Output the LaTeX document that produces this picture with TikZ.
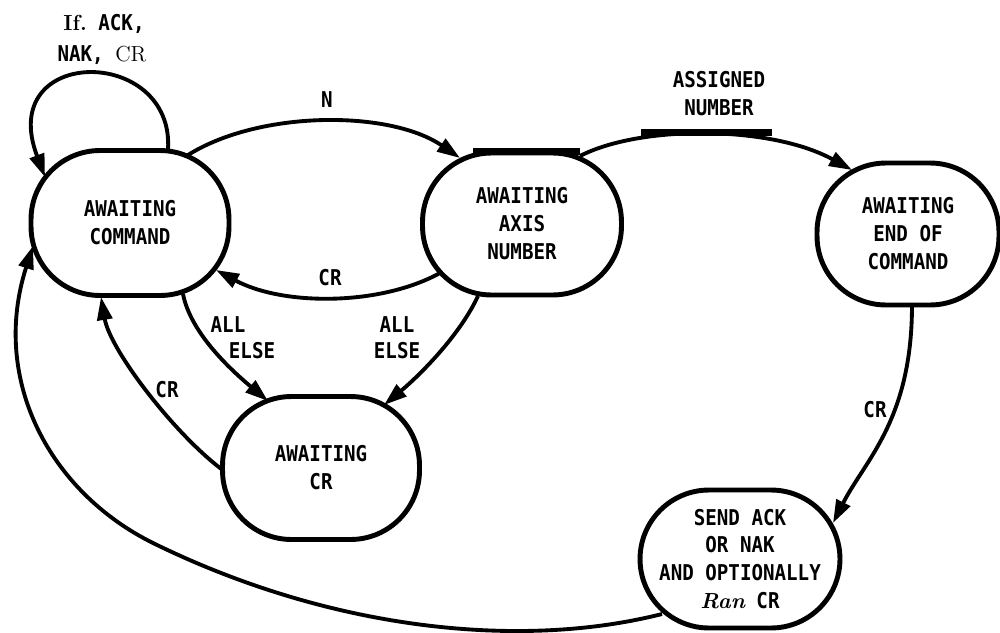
\documentclass[tikz,border=0pt]{standalone}
\usepackage{fontspec}
\newfontfamily\lblfont[FakeStretch=0.88]{DejaVu Sans Mono}
\usetikzlibrary{arrows.meta,calc}
\tikzset{
  stnode/.style={draw, line width=2.8pt, rounded corners=1.38cm, inner sep=0pt, align=center,
    font=\lblfont\bfseries\fontsize{12.4}{15.9}\selectfont},
  stedge/.style={line width=2.2pt, -{Triangle[length=0.46cm,width=0.3cm]}},
  stlab/.style={font=\lblfont\bfseries\fontsize{12.4}{15.9}\selectfont, inner sep=1pt},
  stbar/.style={line width=0.13cm}
}

\begin{document}
\begin{tikzpicture}[x=0.02cm,y=-0.02cm]
  \useasboundingbox (0,0) rectangle (1000,632);
  % states
  \node[stnode, minimum width=3.96cm, minimum height=2.9cm]  (cmd)  at (130,223) {AWAITING\\COMMAND};
  \node[stnode, minimum width=3.98cm, minimum height=2.84cm] (axis) at (522,224) {AWAITING\\AXIS\\NUMBER};
  \node[stnode, minimum width=3.64cm, minimum height=2.84cm] (eoc)  at (908,234) {AWAITING\\END OF\\COMMAND};
  \node[stnode, minimum width=3.94cm, minimum height=2.86cm] (acr)  at (321,468) {AWAITING\\CR};
  \node[stnode, minimum width=4.0cm, minimum height=2.76cm]  (send) at (740,559) {SEND ACK\\OR NAK\\AND OPTIONALLY\\{\rmfamily\itshape Ran} CR};
  \draw[stbar] ($(axis.north)+(-49,1)$) -- ($(axis.north)+(58,1)$);
  % transitions
  \draw[stedge] ($(cmd.center)+(38,-73)$) .. controls (175,45) and (-5,45) .. ($(cmd.center)+(-85,-46)$);
  \draw[stedge] ($(cmd.center)+(58,-68)$) .. controls (260,110) and (390,110) .. ($(axis.center)+(-62,-66)$);
  \draw[stedge] ($(axis.center)+(58,-68)$) .. controls (640,125) and (770,125) .. ($(eoc.center)+(-56,-64)$);
  \draw[stedge] ($(axis.center)+(-82,49)$) .. controls (380,306) and (283,306) .. ($(cmd.center)+(86,47)$);
  \draw[stedge] ($(cmd.center)+(53,71)$) .. controls (190,330) and (225,365) .. ($(acr.center)+(-53,-67)$);
  \draw[stedge] ($(axis.center)+(-44,72)$) .. controls (460,335) and (420,375) .. ($(acr.center)+(63,-63)$);
  \draw[stedge] ($(acr.center)+(-97,3)$) .. controls (175,435) and (110,350) .. ($(cmd.center)+(-29,74)$);
  \draw[stedge] ($(eoc.center)+(4,71)$) .. controls (912,420) and (865,460) .. ($(send.center)+(93,-36)$);
  \draw[stedge] ($(send.center)+(-78,55)$) .. controls (520,650) and (330,630) .. (153,543)
    .. controls (50,492) and (-10,380) .. ($(cmd.center)+(-97,23)$);
  % labels
  \node[stlab] (lfack) at (104,24) {{\rmfamily\bfseries If.}\ ACK,};
  \node[stlab] (nakcr) at (102,55) {NAK, {\rmfamily\mdseries CR}};
  \node[stlab] (nlab) at (327,100) {N};
  \node[stlab, align=center] (asglab) at (719,94) {ASSIGNED\\NUMBER};
  \draw[stbar] ($(asglab.south)+(-78,14)$) -- ($(asglab.south)+(53,14)$);
  \node[stlab] (crtop) at (330,278) {CR};
  \node[stlab] (alla) at (228,325) {ALL};
  \node[stlab] (elsea) at (252,351) {ELSE};
  \node[stlab] (allb) at (397,325) {ALL};
  \node[stlab] (elseb) at (397,351) {ELSE};
  \node[stlab] (crleft) at (167,390) {CR};
  \node[stlab] (crright) at (875,410) {CR};
\end{tikzpicture}
\end{document}
